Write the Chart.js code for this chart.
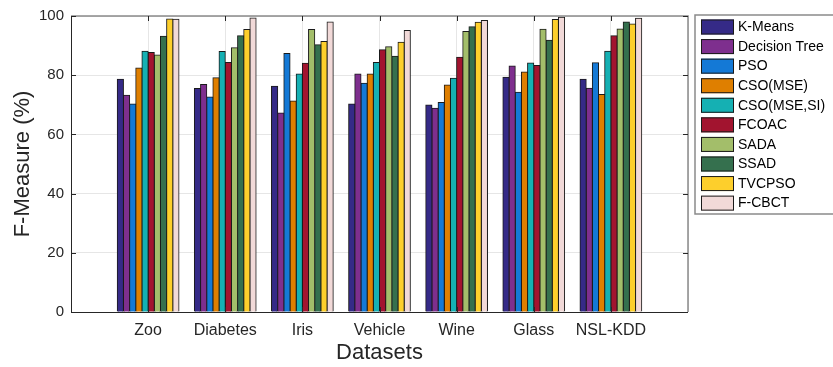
<!DOCTYPE html>
<html>
<head>
<meta charset="utf-8">
<script src="https://cdn.jsdelivr.net/npm/chart.js@4/dist/chart.umd.min.js"></script>
<style>
  html, body { margin: 0; padding: 0; background: #fff; }
  #wrap { width: 833px; height: 367px; }
</style>
</head>
<body>
<div id="wrap"><canvas id="fmeasure"></canvas></div>
<script>
var categories = ["Zoo", "Diabetes", "Iris", "Vehicle", "Wine", "Glass", "NSL-KDD"];
var yTicks = [0, 20, 40, 60, 80, 100];

var kmeans       = [78.6, 75.5, 76.3, 70.3, 69.9, 79.3, 78.6];
var decisionTree = [73.2, 76.9, 67.2, 80.4, 68.8, 83.1, 75.6];
var pso          = [70.3, 72.6, 87.3, 77.3, 70.8, 74.2, 84.2];
var csoMse       = [82.4, 79.1, 71.3, 80.4, 76.7, 81.1, 73.5];
var csoMseSi     = [88.1, 88.0, 80.4, 84.3, 79.0, 84.1, 88.1];
var fcoac        = [87.7, 84.3, 84.0, 88.6, 86.1, 83.3, 93.3];
var sada         = [86.8, 89.3, 95.4, 89.6, 94.8, 95.5, 95.6];
var ssad         = [93.2, 93.3, 90.3, 86.4, 96.4, 91.8, 98.0];
var tvcpso       = [99.0, 95.4, 91.4, 91.1, 97.9, 98.8, 97.3];
var fcbct        = [98.9, 99.3, 98.0, 95.1, 98.5, 99.6, 99.2];

var seriesNames = ["K-Means", "Decision Tree", "PSO", "CSO(MSE)", "CSO(MSE,SI)",
                   "FCOAC", "SADA", "SSAD", "TVCPSO", "F-CBCT"];
var seriesValues = [kmeans, decisionTree, pso, csoMse, csoMseSi, fcoac, sada, ssad, tvcpso, fcbct];
var seriesColors = ["#352a87", "#7e2f8e", "#1479d6", "#df7f00", "#15b0b3",
                    "#a2142f", "#a3be6a", "#35704e", "#fdcf2c", "#f1d9d8"];

var FONT = "'Liberation Sans', Arial, Helvetica, sans-serif";
var TEXT = "#262626";

// empty slot at each end so the groups sit one full step in from the box
var labels = [""].concat(categories, [""]);

var datasets = seriesNames.map(function (name, i) {
    return {
        label: name,
        data: [null].concat(seriesValues[i], [null]),
        backgroundColor: seriesColors[i],
        borderColor: "#1a1a1a",
        borderWidth: 1,
        inflateAmount: 0.5,
        categoryPercentage: 0.8,
        barPercentage: 1.0
    };
});

// axes box, inward ticks and the boxed legend on the right
var matlabBox = {
    id: "matlabBox",
    afterDatasetsDraw: function (chart) {
        var c = chart.ctx, a = chart.chartArea;
        var ys = chart.scales.y, xs = chart.scales.x;
        c.save();
        c.lineWidth = 1.5;
        c.strokeStyle = "#8a8a8a";
        c.beginPath();
        c.moveTo(a.left, a.top); c.lineTo(a.right, a.top); c.lineTo(a.right, a.bottom);
        c.stroke();
        c.lineWidth = 1;
        c.strokeStyle = TEXT;
        c.beginPath();
        c.moveTo(a.left + 0.5, a.top); c.lineTo(a.left + 0.5, a.bottom + 0.5); c.lineTo(a.right, a.bottom + 0.5);
        c.stroke();
        c.beginPath();
        yTicks.forEach(function (v) {
            var py = Math.round(ys.getPixelForValue(v)) + 0.5;
            c.moveTo(a.left, py); c.lineTo(a.left + 5, py);
            c.moveTo(a.right, py); c.lineTo(a.right - 5, py);
        });
        categories.forEach(function (n, i) {
            var px = Math.round(xs.getPixelForValue(i + 1)) + 0.5;
            c.moveTo(px, a.bottom); c.lineTo(px, a.bottom - 5);
            c.moveTo(px, a.top); c.lineTo(px, a.top + 5);
        });
        c.stroke();

        // legend (box runs off the right edge, as in the figure)
        c.strokeStyle = "#8a8a8a";
        c.lineWidth = 1.5;
        c.strokeRect(695, 15, 150, 199);
        c.font = "14px " + FONT;
        c.textBaseline = "middle";
        c.textAlign = "left";
        seriesNames.forEach(function (n, i) {
            var top = 19.5 + i * 19.57;
            c.fillStyle = seriesColors[i];
            c.fillRect(701, top, 33, 15);
            c.lineWidth = 1;
            c.strokeStyle = "#1a1a1a";
            c.strokeRect(701.5, top + 0.5, 32, 14);
            c.fillStyle = "#000";
            c.fillText(n, 738, top + 8);
        });
        c.restore();
    }
};

var ctx = document.getElementById("fmeasure");
var chart = new Chart(ctx, {
    type: "bar",
    data: { labels: labels, datasets: datasets },
    plugins: [matlabBox],
    options: {
        responsive: true,
        maintainAspectRatio: false,
        animation: false,
        layout: { padding: { top: 15, right: 145, left: 0, bottom: 0 } },
        plugins: {
            legend: { display: false },
            tooltip: { enabled: false }
        },
        scales: {
            x: {
                offset: false,
                grid: { offset: false, color: "#e6e6e6", drawTicks: false },
                border: { display: false },
                ticks: { color: TEXT, font: { family: FONT, size: 16 }, padding: 9, maxRotation: 0, autoSkip: false },
                title: { display: true, text: "Datasets", color: TEXT,
                         font: { family: FONT, size: 22 }, padding: { top: 0, bottom: 1 } },
                afterFit: function (s) { s.height = 55; }
            },
            y: {
                min: 0, max: 100,
                afterBuildTicks: function (s) { s.ticks = yTicks.map(function (v) { return { value: v }; }); },
                grid: { color: "#e6e6e6", drawTicks: false },
                border: { display: false },
                ticks: { color: TEXT, font: { family: FONT, size: 15 }, padding: 7 },
                title: { display: true, text: "F-Measure (%)", color: TEXT,
                         font: { family: FONT, size: 22 }, padding: { top: 10, bottom: 0 } },
                afterFit: function (s) { s.width = 71; }
            }
        }
    }
});
</script>
</body>
</html>
